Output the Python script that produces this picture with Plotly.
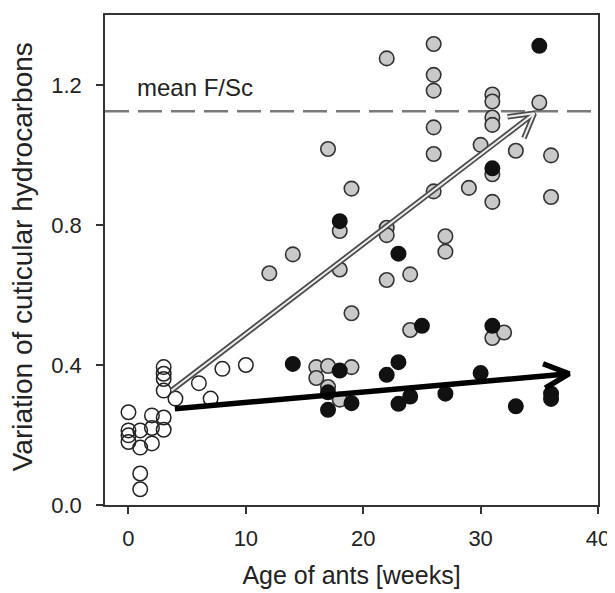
import math
import plotly.graph_objects as go

# ---------------- data ----------------
young_age = [0, 0, 0, 0, 1, 1, 1, 1, 2, 2, 2, 3, 3, 3, 3, 3, 3, 4, 6, 7, 8, 10]
young_var = [0.265, 0.213, 0.199, 0.18, 0.213, 0.164, 0.09, 0.045, 0.256, 0.22, 0.176,
             0.394, 0.375, 0.36, 0.327, 0.25, 0.215, 0.304, 0.348, 0.304, 0.389, 0.40]

gray_age = [12, 14, 16, 16, 17, 17, 17, 18, 18, 18, 19, 19, 19,
            22, 22, 22, 22, 24, 24, 26, 26, 26, 26, 26, 26, 27, 27, 29, 30,
            31, 31, 31, 31, 31, 31, 31, 32, 33, 35, 36, 36]
gray_var = [0.662, 0.716, 0.394, 0.363, 0.397, 0.337, 1.017, 0.783, 0.673, 0.301, 0.904, 0.548, 0.394,
            1.276, 0.792, 0.771, 0.643, 0.659, 0.50, 1.317, 1.229, 1.184, 1.079, 1.003, 0.896,
            0.768, 0.724, 0.906, 1.029, 1.173, 1.153, 1.107, 1.086, 0.945, 0.866, 0.477,
            0.493, 1.012, 1.150, 0.999, 0.880]

black_age = [14, 17, 17, 18, 18, 19, 22, 23, 23, 23, 24, 25, 27, 30, 31, 31, 33, 35, 36, 36]
black_var = [0.403, 0.322, 0.272, 0.811, 0.384, 0.291, 0.372, 0.718, 0.408, 0.289, 0.31, 0.512,
             0.318, 0.377, 0.962, 0.512, 0.282, 1.312, 0.318, 0.303]

mean_fsc = 1.125

gray_trend_age = [3.67, 34.57]
gray_trend_var = [0.327, 1.119]
black_trend_age = [3.95, 37.54]
black_trend_var = [0.275, 0.375]

x_ticks = [0, 10, 20, 30, 40]
y_ticks = [0.0, 0.4, 0.8, 1.2]

# ---------------- layout constants ----------------
# (the page body has an 8 px margin, so the figure is slightly smaller than the window)
W, H = 607, 585
ML, MR, MT, MB = 97, 16, 5, 88
XR = [-2, 40]
YR = [0, 1.4]
sx = (W - ML - MR) / (XR[1] - XR[0])   # px per x unit
sy = (H - MT - MB) / (YR[1] - YR[0])   # px per y unit
FONT = "Liberation Sans, Arial, sans-serif"


def chevron(xs, ys, length_px, ang_deg):
    x0, x1 = xs
    y0, y1 = ys
    th = math.atan2((y1 - y0) * sy, (x1 - x0) * sx)
    a = math.radians(ang_deg)
    px, py = [], []
    for s in (1, -1):
        b = th + math.pi + s * a
        px.append(x1 + length_px * math.cos(b) / sx)
        py.append(y1 + length_px * math.sin(b) / sy)
    return [px[0], x1, px[1]], [py[0], y1, py[1]]


fig = go.Figure()

fig.add_trace(go.Scatter(
    x=young_age, y=young_var, mode="markers", name="young",
    marker=dict(symbol="circle-open", size=14.5, color="#222222", line=dict(width=1.5)),
))
fig.add_trace(go.Scatter(
    x=gray_age, y=gray_var, mode="markers", name="gray",
    marker=dict(symbol="circle", size=14.5, color="#c9c9c9", line=dict(width=1.6, color="#333333")),
))
fig.add_trace(go.Scatter(
    x=black_age, y=black_var, mode="markers", name="black",
    marker=dict(symbol="circle", size=14.5, color="#111111", line=dict(width=1.5, color="#111111")),
))

# gray (hollow) trend arrow
gh_x, gh_y = chevron(gray_trend_age, gray_trend_var, 27, 30)
for w, c in ((5.5, "#4a4a4a"), (2.0, "#ececec")):
    fig.add_trace(go.Scatter(x=gray_trend_age, y=gray_trend_var, mode="lines",
                             line=dict(color=c, width=w), hoverinfo="skip"))
    fig.add_trace(go.Scatter(x=gh_x, y=gh_y, mode="lines",
                             line=dict(color=c, width=w), hoverinfo="skip"))

# black trend arrow
bh_x, bh_y = chevron(black_trend_age, black_trend_var, 28, 26)
fig.add_trace(go.Scatter(x=black_trend_age, y=black_trend_var, mode="lines",
                         line=dict(color="#000000", width=5.5), hoverinfo="skip"))
fig.add_trace(go.Scatter(x=bh_x, y=bh_y, mode="lines",
                         line=dict(color="#000000", width=5.5), hoverinfo="skip"))

fig.add_hline(y=mean_fsc, line=dict(color="#7a7a7a", width=2.5, dash="24px,9px"), layer="below")

fig.add_annotation(x=0.55, y=1.192, xref="x", yref="y", text="mean F/Sc", showarrow=False,
                   xanchor="left", yanchor="middle",
                   font=dict(family=FONT, size=24, color="#222222"))

# y-axis title placed as a rotated annotation for exact positioning
fig.add_annotation(x=-0.168, y=0.506, xref="paper", yref="paper",
                   text="Variation of cuticular hydrocarbons", showarrow=False, textangle=-90,
                   xanchor="center", yanchor="middle",
                   font=dict(family=FONT, size=28, color="#222222"))

axis_common = dict(
    showline=True, mirror=True, linecolor="#333333", linewidth=1.5,
    ticks="outside", ticklen=7, tickwidth=1.5, tickcolor="#333333",
    showgrid=False, zeroline=False,
    tickfont=dict(family=FONT, size=22, color="#222222"),
)

fig.update_layout(
    width=W, height=H,
    margin=dict(l=ML, r=MR, t=MT, b=MB),
    paper_bgcolor="white", plot_bgcolor="white",
    showlegend=False,
    xaxis=dict(range=XR, tickvals=x_ticks, ticklabelstandoff=6, **axis_common,
               title=dict(text="Age of ants [weeks]", standoff=16,
                          font=dict(family=FONT, size=25, color="#222222"))),
    yaxis=dict(range=YR, tickvals=y_ticks, tickformat=".1f", ticklabelstandoff=10, **axis_common),
)

fig.write_html("out.html")
